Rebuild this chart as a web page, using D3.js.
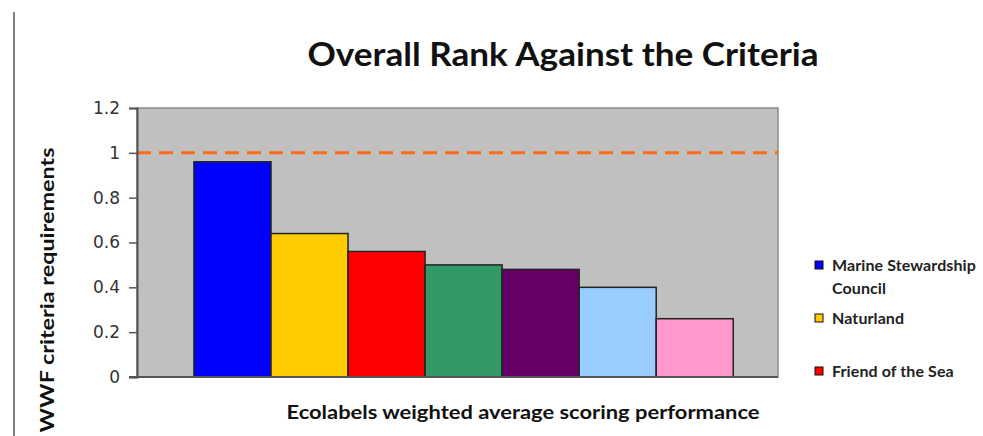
<!DOCTYPE html>
<html>
<head>
<meta charset="utf-8">
<script src="https://cdn.jsdelivr.net/npm/d3@7"></script>
<style>
  body { margin: 0; background: #fff; }
  text { font-family: Lato, "Open Sans", sans-serif; }
</style>
</head>
<body>
<svg id="chart" width="983" height="436"></svg>
<script>
"use strict";

// ecolabels, in the order of the bars
var labels = ["Marine Stewardship Council", "Naturland", "Friend of the Sea", "Ecolabel 4", "Ecolabel 5", "Ecolabel 6", "Ecolabel 7"]
var scores = [0.96, 0.64, 0.56, 0.50, 0.48, 0.40, 0.26]
var colors = ["#0000ff", "#ffcc00", "#ff0000", "#339966", "#660066", "#99ccff", "#ff99cc"]
var legendLines = [["Marine Stewardship", "Council"], ["Naturland"], ["Friend of the Sea"]]
var yTicks = [0, 0.2, 0.4, 0.6, 0.8, 1, 1.2]
var target = 1

var svg = d3.select("#chart")
var plot = {left: 137, right: 778, top: 108, bottom: 377}

var x = d3.scaleBand()
    .domain(labels)
    .range([plot.left, plot.right])
    .paddingInner(0)
    .paddingOuter(0.66)
    .align(0.56)

var y = d3.scaleLinear().domain([0, 1.2]).range([plot.bottom, plot.top])

// frame line at the very left
svg.append("line")
    .attr("x1", 14).attr("x2", 14)
    .attr("y1", 12).attr("y2", 436)
    .attr("stroke", "#555").attr("stroke-width", 1.5)

// plot background
svg.append("rect")
    .attr("x", plot.left).attr("y", plot.top)
    .attr("width", plot.right - plot.left).attr("height", plot.bottom - plot.top)
    .attr("fill", "#c0c0c0")
    .attr("stroke", "#8a8a8a").attr("stroke-width", 1.5)

// target line
svg.append("line")
    .attr("x1", plot.left).attr("x2", plot.right)
    .attr("y1", y(target)).attr("y2", y(target))
    .attr("stroke", "#ff6a13").attr("stroke-width", 3)
    .attr("stroke-dasharray", "14,8")

svg.selectAll(".bar")
    .data(scores)
    .join("rect")
    .attr("class", "bar")
    .attr("x", (d, i) => x(labels[i]))
    .attr("y", d => y(d))
    .attr("width", x.bandwidth())
    .attr("height", d => y(0) - y(d))
    .attr("fill", (d, i) => colors[i])
    .attr("stroke", "#222").attr("stroke-width", 1.5)

// y axis
var yAxis = svg.append("g")
    .attr("transform", "translate(" + plot.left + ",0)")
    .call(d3.axisLeft(y).tickValues(yTicks).tickSize(8).tickPadding(9).tickFormat(d3.format("")))
yAxis.select(".domain").attr("stroke", "#555").attr("stroke-width", 2)
yAxis.selectAll(".tick line").attr("stroke", "#555").attr("stroke-width", 1.5)
yAxis.selectAll(".tick text")
    .style("font-family", "'DejaVu Sans', sans-serif")
    .style("font-size", "17px")
    .attr("fill", "#333")

// bottom axis line
svg.append("line")
    .attr("x1", plot.left - 8).attr("x2", plot.right)
    .attr("y1", plot.bottom).attr("y2", plot.bottom)
    .attr("stroke", "#555").attr("stroke-width", 2)

// title
svg.append("text")
    .attr("x", 563).attr("y", 66)
    .attr("text-anchor", "middle")
    .attr("textLength", 511).attr("lengthAdjust", "spacingAndGlyphs")
    .style("font-size", "32px").style("font-weight", 700)
    .attr("fill", "#111")
    .text("Overall Rank Against the Criteria")

svg.append("text")
    .attr("x", 523).attr("y", 419)
    .attr("text-anchor", "middle")
    .attr("textLength", 473).attr("lengthAdjust", "spacingAndGlyphs")
    .style("font-size", "18px").style("font-weight", 700)
    .attr("fill", "#111")
    .text("Ecolabels weighted average scoring performance")

svg.append("text")
    .attr("transform", "translate(54,290) rotate(-90)")
    .attr("text-anchor", "middle")
    .attr("textLength", 285).attr("lengthAdjust", "spacingAndGlyphs")
    .style("font-size", "18px").style("font-weight", 700)
    .attr("fill", "#111")
    .text("WWF criteria requirements")

// legend, close to the right edge of the picture
var legend = svg.selectAll(".legend")
    .data(legendLines)
    .join("g")
    .attr("class", "legend")
    .attr("transform", (d, i) => "translate(815," + (265 + i * 53) + ")")

legend.append("rect")
    .attr("x", 0).attr("y", -4)
    .attr("width", 8).attr("height", 8)
    .attr("fill", (d, i) => colors[i])
    .attr("stroke", "#111").attr("stroke-width", 1)

legend.each(function (lines) {
    d3.select(this).selectAll("text")
        .data(lines)
        .join("text")
        .attr("x", 17)
        .attr("y", (d, j) => 6 + j * 23)
        .style("font-size", "16px").style("font-weight", 700)
        .style("letter-spacing", "0.1px")
        .attr("fill", "#222")
        .text(d => d)
})
</script>
</body>
</html>
